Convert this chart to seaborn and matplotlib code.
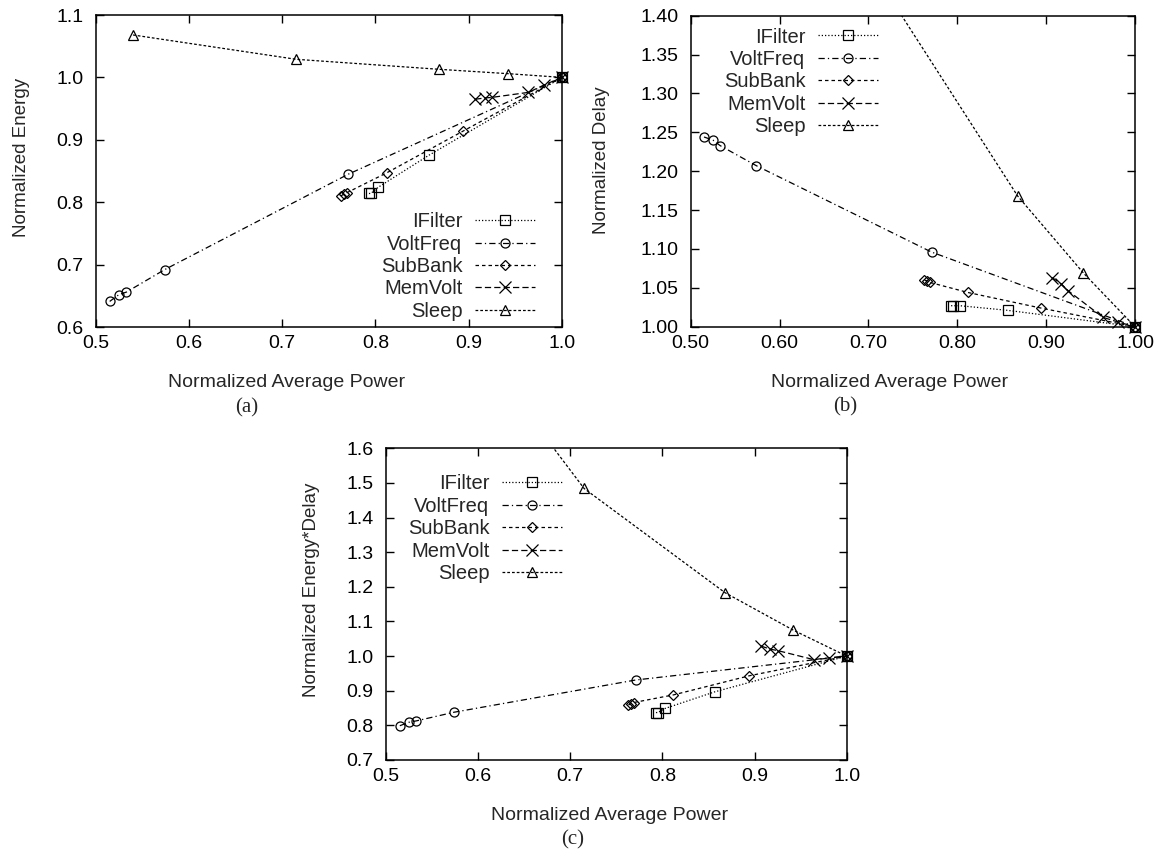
import matplotlib
matplotlib.use("Agg")
import matplotlib.pyplot as plt
import seaborn as sns
import pandas as pd

# Normalized measurements for each technique (power, energy, delay, energy*delay)
ifilter_power = [0.793, 0.795, 0.803, 0.857, 1.0]
ifilter_energy = [0.814, 0.814, 0.824, 0.875, 1.0]
ifilter_delay = [1.027, 1.027, 1.027, 1.021, 1.0]
ifilter_edp = [0.837, 0.837, 0.849, 0.897, 1.0]

voltfreq_power = [0.515, 0.525, 0.533, 0.574, 0.771, 1.0]
voltfreq_energy = [0.641, 0.652, 0.656, 0.692, 0.845, 1.0]
voltfreq_delay = [1.244, 1.240, 1.233, 1.207, 1.096, 1.0]
voltfreq_edp = [0.799, 0.809, 0.813, 0.838, 0.931, 1.0]

subbank_power = [0.763, 0.766, 0.769, 0.812, 0.894, 1.0]
subbank_energy = [0.810, 0.813, 0.815, 0.847, 0.914, 1.0]
subbank_delay = [1.060, 1.059, 1.057, 1.044, 1.024, 1.0]
subbank_edp = [0.859, 0.862, 0.866, 0.888, 0.943, 1.0]

memvolt_power = [0.907, 0.917, 0.925, 0.964, 0.981, 1.0]
memvolt_energy = [0.965, 0.967, 0.968, 0.976, 0.988, 1.0]
memvolt_delay = [1.063, 1.055, 1.046, 1.012, 1.006, 1.0]
memvolt_edp = [1.029, 1.020, 1.016, 0.990, 0.995, 1.0]

sleep_power = [0.540, 0.715, 0.868, 0.942, 1.0]
sleep_energy = [1.068, 1.029, 1.013, 1.006, 1.0]
sleep_delay = [1.97, 1.44, 1.168, 1.069, 1.0]
sleep_edp = [2.10, 1.484, 1.183, 1.075, 1.0]

series_names = ["IFilter", "VoltFreq", "SubBank", "MemVolt", "Sleep"]
power = [ifilter_power, voltfreq_power, subbank_power, memvolt_power, sleep_power]
energy = [ifilter_energy, voltfreq_energy, subbank_energy, memvolt_energy, sleep_energy]
delay = [ifilter_delay, voltfreq_delay, subbank_delay, memvolt_delay, sleep_delay]
edp = [ifilter_edp, voltfreq_edp, subbank_edp, memvolt_edp, sleep_edp]

# gnuplot-like line/point styles
styles = {
    "IFilter": dict(marker="s", markersize=6.5, linestyle=(0, (1, 1.6))),
    "VoltFreq": dict(marker="o", markersize=6.5, linestyle=(0, (5, 2.5, 1, 2.5))),
    "SubBank": dict(marker="D", markersize=5.5, linestyle=(0, (2.8, 2.4))),
    "MemVolt": dict(marker="x", markersize=8, linestyle=(0, (5, 2.5))),
    "Sleep": dict(marker="^", markersize=7, linestyle=(0, (2.2, 1.6))),
}

sns.set_style("ticks")
plt.rcParams["font.family"] = ["Liberation Sans", "DejaVu Sans"]

W, H = 1174, 850
fig = plt.figure(figsize=(W / 100, H / 100), dpi=100)


def box(l, t, r, b):
    return [l / W, 1 - b / H, (r - l) / W, (b - t) / H]


def panel(rect, yvals, xlim, ylim, xticks, yticks, xfmt, yfmt, leg_anchor):
    ax = fig.add_axes(rect)
    for name, xs, ys in zip(series_names, power, yvals):
        df = pd.DataFrame({"x": xs, "y": ys})
        st = styles[name]
        sns.lineplot(data=df, x="x", y="y", ax=ax, sort=False, estimator=None,
                     color="black", lw=0.9, marker=st["marker"],
                     markersize=st["markersize"], linestyle=st["linestyle"],
                     markerfacecolor="none", markeredgecolor="black",
                     markeredgewidth=0.9, label=name, legend=False,
                     clip_on=(name == "Sleep"))
    ax.set_xlim(*xlim)
    ax.set_ylim(*ylim)
    ax.set_xticks(xticks)
    ax.set_yticks(yticks)
    ax.set_xticklabels([xfmt.format(v) for v in xticks])
    ax.set_yticklabels([yfmt.format(v) for v in yticks])
    ax.set_xlabel("")
    ax.set_ylabel("")
    ax.tick_params(axis="both", direction="in", top=True, right=True,
                   length=6, width=1, labelsize=14, colors="black")
    ax.tick_params(axis="x", pad=6)
    ax.tick_params(axis="y", pad=9)
    for s in ax.spines.values():
        s.set_visible(True)
        s.set_linewidth(1.1)
        s.set_color("black")
    ax.legend(loc="upper right", bbox_to_anchor=leg_anchor, frameon=False,
              markerfirst=False, fontsize=14.5, handlelength=3.0,
              handletextpad=0.6, labelspacing=0.17, borderpad=0,
              borderaxespad=0)
    return ax


xt = [0.5, 0.6, 0.7, 0.8, 0.9, 1.0]

# (a) energy
panel(box(95.7, 15, 562, 327), energy, (0.5, 1.0), (0.6, 1.1), xt,
      [0.6, 0.7, 0.8, 0.9, 1.0, 1.1], "{:.1f}", "{:.1f}", (0.942, 0.368))
# (b) delay
panel(box(690.7, 15.7, 1135, 326.7), delay, (0.5, 1.0), (1.0, 1.4), xt,
      [1.0, 1.05, 1.1, 1.15, 1.2, 1.25, 1.3, 1.35, 1.4], "{:.2f}", "{:.2f}",
      (0.4216, 0.962))
# (c) energy*delay
panel(box(386, 448.3, 846.7, 760), edp, (0.5, 1.0), (0.7, 1.6), xt,
      [0.7, 0.8, 0.9, 1.0, 1.1, 1.2, 1.3, 1.4, 1.5, 1.6], "{:.1f}", "{:.1f}",
      (0.382, 0.916))


def ftext(x, y, s, **kw):
    fig.text(x / W, 1 - y / H, s, ha="center", va="center", **kw)


ftext(287, 382, "Normalized Average Power", fontsize=14)
ftext(890, 382, "Normalized Average Power", fontsize=14)
ftext(610, 815, "Normalized Average Power", fontsize=14)
ftext(22, 157, "Normalized Energy", fontsize=13.5, rotation=90)
ftext(602, 160, "Normalized Delay", fontsize=13.5, rotation=90)
ftext(312, 590, "Normalized Energy*Delay", fontsize=13.5, rotation=90)
ftext(247, 408, "(a)", fontsize=15, family=["Liberation Serif"])
ftext(845, 407, "(b)", fontsize=15, family=["Liberation Serif"])
ftext(573, 840, "(c)", fontsize=15, family=["Liberation Serif"])

fig.savefig("out.png", dpi=100, facecolor="white")
